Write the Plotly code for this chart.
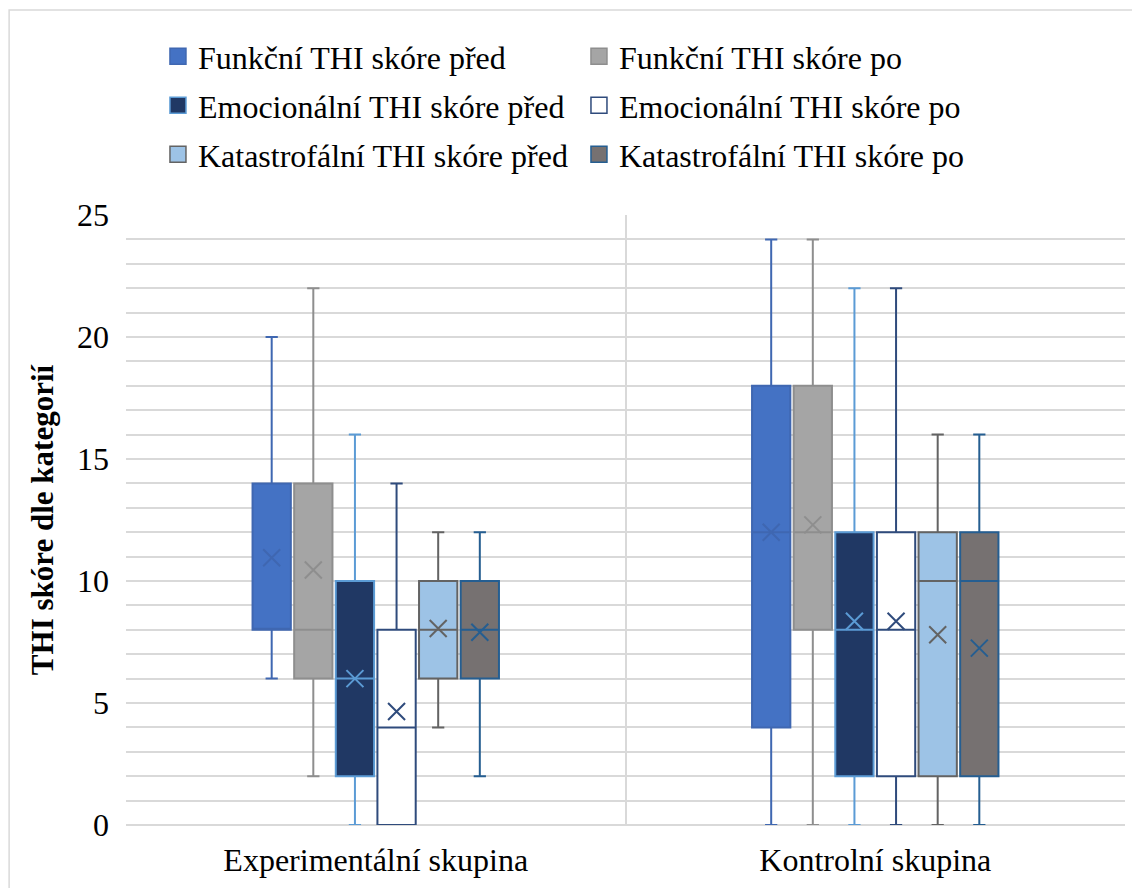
import plotly.graph_objects as go

groups = ["Experimentální skupina", "Kontrolní skupina"]
series = [
    "Funkční THI skóre před",
    "Funkční THI skóre po",
    "Emocionální THI skóre před",
    "Emocionální THI skóre po",
    "Katastrofální THI skóre před",
    "Katastrofální THI skóre po",
]

# Five-number summaries and means, one list per series: [Experimentální, Kontrolní]
lower_whisker = [[6, 0], [2, 0], [0, 0], [0, 0], [4, 0], [2, 0]]
quartile1 = [[8, 4], [6, 8], [2, 2], [0, 2], [6, 2], [6, 2]]
medians = [[8, 12], [8, 12], [6, 8], [4, 8], [8, 10], [8, 10]]
quartile3 = [[14, 18], [14, 18], [10, 12], [8, 12], [10, 12], [10, 12]]
upper_whisker = [[20, 24], [22, 24], [16, 22], [14, 22], [12, 16], [12, 16]]
means = [[10.95, 12.0], [10.45, 12.3], [6.0, 8.35], [4.65, 8.35], [8.05, 7.8], [7.9, 7.25]]

fill_colors = ["#4472C4", "#A5A5A5", "#203864", "#FFFFFF", "#9DC3E6", "#767171"]
line_colors = ["#3F67B1", "#8E8E8E", "#5B9BD5", "#2F4B7C", "#636363", "#255E91"]

# each legend row holds one pair (před / po)
legend_rows = ["legend", "legend", "legend2", "legend2", "legend3", "legend3"]

FONT = "Liberation Serif"
GRID = "#D9D9D9"

fig = go.Figure()

for i, name in enumerate(series):
    fig.add_trace(go.Box(
        name=name,
        x=groups,
        lowerfence=lower_whisker[i],
        q1=quartile1[i],
        median=medians[i],
        q3=quartile3[i],
        upperfence=upper_whisker[i],
        fillcolor=fill_colors[i],
        line=dict(color=line_colors[i], width=2),
        whiskerwidth=0.32,
        offsetgroup=str(i),
        showlegend=False,
        hoverinfo="skip",
    ))

for i, name in enumerate(series):
    fig.add_trace(go.Scatter(
        name=name,
        x=groups,
        y=means[i],
        mode="markers",
        marker=dict(symbol="x-thin", size=17,
                    line=dict(color=line_colors[i], width=2)),
        offsetgroup=str(i),
        showlegend=False,
        hoverinfo="skip",
    ))

# legend entries: filled squares in each series' colours
for i, name in enumerate(series):
    fig.add_trace(go.Scatter(
        name=name,
        x=[None],
        y=[None],
        mode="markers",
        marker=dict(symbol="square", size=16, color=fill_colors[i],
                    line=dict(color=line_colors[i], width=1.5)),
        showlegend=True,
        legend=legend_rows[i],
    ))


def legend_row(y_top):
    return dict(
        orientation="h",
        x=0.032,
        y=y_top,
        xanchor="left",
        yanchor="top",
        entrywidth=376,
        traceorder="normal",
        bgcolor="rgba(0,0,0,0)",
        font=dict(family=FONT, size=32, color="black"),
    )


fig.update_layout(
    width=1132,
    height=888,
    margin=dict(l=126, r=7, t=215, b=63),
    boxmode="group",
    boxgap=0.5,
    boxgroupgap=0.08,
    scattermode="group",
    scattergap=0.5,
    plot_bgcolor="white",
    paper_bgcolor="white",
    font=dict(family=FONT, size=32, color="black"),
    legend=legend_row(1.3049),
    legend2=legend_row(1.2246),
    legend3=legend_row(1.1443),
    shapes=[dict(
        type="rect", xref="paper", yref="paper",
        x0=-0.117, x1=1.2, y0=-0.3, y1=1.336,
        line=dict(color=GRID, width=1.5), fillcolor="rgba(0,0,0,0)",
        layer="below",
    )],
)

fig.update_xaxes(
    type="category",
    range=[-0.5, 1.5],
    tickson="boundaries",
    showgrid=True,
    gridcolor=GRID,
    gridwidth=1.5,
    ticks="",
    showline=False,
    zeroline=False,
    ticklabelstandoff=13,
    tickfont=dict(family=FONT, size=32, color="black"),
)

fig.update_yaxes(
    range=[0, 25],
    dtick=5,
    showgrid=True,
    gridcolor=GRID,
    gridwidth=1.5,
    minor=dict(dtick=1, showgrid=True, gridcolor=GRID, gridwidth=1.5),
    zeroline=True,
    zerolinecolor=GRID,
    zerolinewidth=1.5,
    showline=False,
    ticks="",
    ticklabelstandoff=16,
    tickfont=dict(family=FONT, size=32, color="black"),
    title=dict(text="THI skóre dle kategorií",
               font=dict(family=FONT, size=31, color="black", weight="bold"),
               standoff=14),
)

fig.write_html("out.html")
